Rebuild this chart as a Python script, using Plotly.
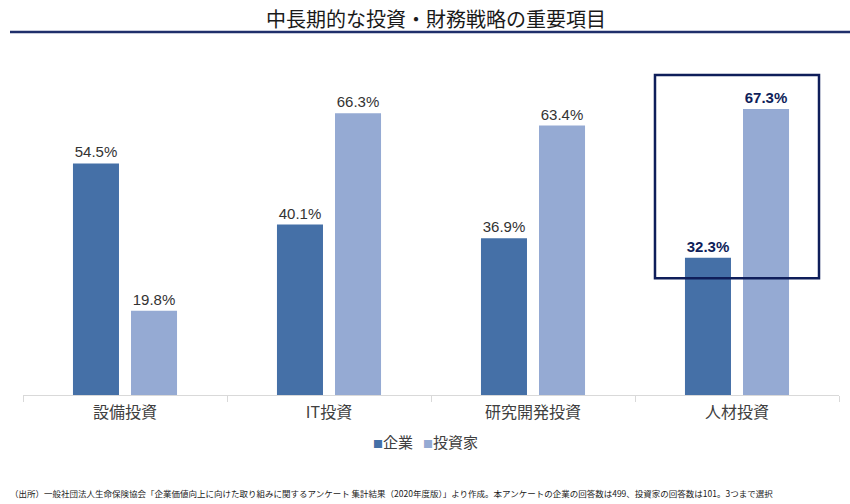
import plotly.graph_objects as go

categories = ["設備投資", "IT投資", "研究開発投資", "人材投資"]
company = [54.5, 40.1, 36.9, 32.3]
investor = [19.8, 66.3, 63.4, 67.3]
series_names = ["企業", "投資家"]
title_text = "中長期的な投資・財務戦略の重要項目"
footnote = "（出所）一般社団法人生命保険協会「企業価値向上に向けた取り組みに関するアンケート 集計結果（2020年度版）」より作成。本アンケートの企業の回答数は499、投資家の回答数は101。3つまで選択"
highlight = "人材投資"

FONT = "Noto Sans CJK JP, Noto Sans, sans-serif"
NUM_FONT = "Liberation Sans, Arial, sans-serif"
NAVY = "#0F1E5A"
C1 = "#4570A7"
C2 = "#95AAD3"
COLORS = [C1, C2]

def labels(vals):
    out = []
    for c, v in zip(categories, vals):
        s = f"{v:.1f}%"
        out.append(f"<b>{s}</b>" if c == highlight else s)
    return out

def colors():
    return [NAVY if c == highlight else "#333333" for c in categories]

fig = go.Figure()
for name, vals, col in zip(series_names, [company, investor], COLORS):
    fig.add_trace(go.Bar(x=categories, y=vals, name=name, marker_color=col,
                         marker_line_width=0,
                         text=labels(vals), textposition="outside",
                         textfont=dict(size=15, color=colors(), family=NUM_FONT),
                         cliponaxis=False, showlegend=False))

L, R, T, B = 23, 11, 60, 109
W, H = 850, 504
pw, ph = W - L - R, H - T - B
PX_PER = 4.25

def px_x(x):
    return (x - L) / pw

def px_y(y):
    return (H - B - y) / ph

legend_text = "   ".join(
    f"<span style='font-size:10px;color:{c}'>■</span>{n}" for n, c in zip(series_names, COLORS)
)

fig.update_layout(
    width=W, height=H,
    margin=dict(l=L, r=R, t=T, b=B),
    paper_bgcolor="white", plot_bgcolor="white",
    barmode="group", bargap=0.431, bargroupgap=0.207,
    font=dict(family=FONT, color="#404040", size=13),
    showlegend=False,
    xaxis=dict(showline=True, linecolor="#D9D9D9", linewidth=1, ticks="outside",
               tickson="boundaries", tickcolor="#D9D9D9", ticklen=6,
               ticklabelstandoff=3,
               tickfont=dict(size=16, color="#404040")),
    yaxis=dict(range=[0, ph / PX_PER], visible=False, showgrid=False, fixedrange=True),
    annotations=[
        dict(text=title_text, xref="paper", yref="paper", x=px_x(436), y=px_y(18),
             xanchor="center", yanchor="middle", showarrow=False,
             font=dict(size=20, color="#1a1a1a", family=FONT)),
        dict(text=legend_text, xref="paper", yref="paper", x=px_x(425), y=px_y(441),
             xanchor="center", yanchor="middle", showarrow=False,
             font=dict(size=15, color="#404040", family=FONT)),
        dict(text=footnote, xref="paper", yref="paper", x=px_x(8), y=px_y(493),
             xanchor="left", yanchor="middle", showarrow=False,
             font=dict(size=8.5, color="#1a1a1a", family=FONT)),
    ],
    shapes=[
        dict(type="line", xref="paper", yref="paper", x0=px_x(10), x1=px_x(850),
             y0=px_y(32), y1=px_y(32), line=dict(color="#1F2F6B", width=2.5)),
        dict(type="rect", xref="x", yref="y", x0=2.598, x1=3.402, y0=27.46, y1=75.3,
             line=dict(color=NAVY, width=2.5), fillcolor="rgba(0,0,0,0)", layer="above"),
    ],
)

fig.write_html("out.html")
